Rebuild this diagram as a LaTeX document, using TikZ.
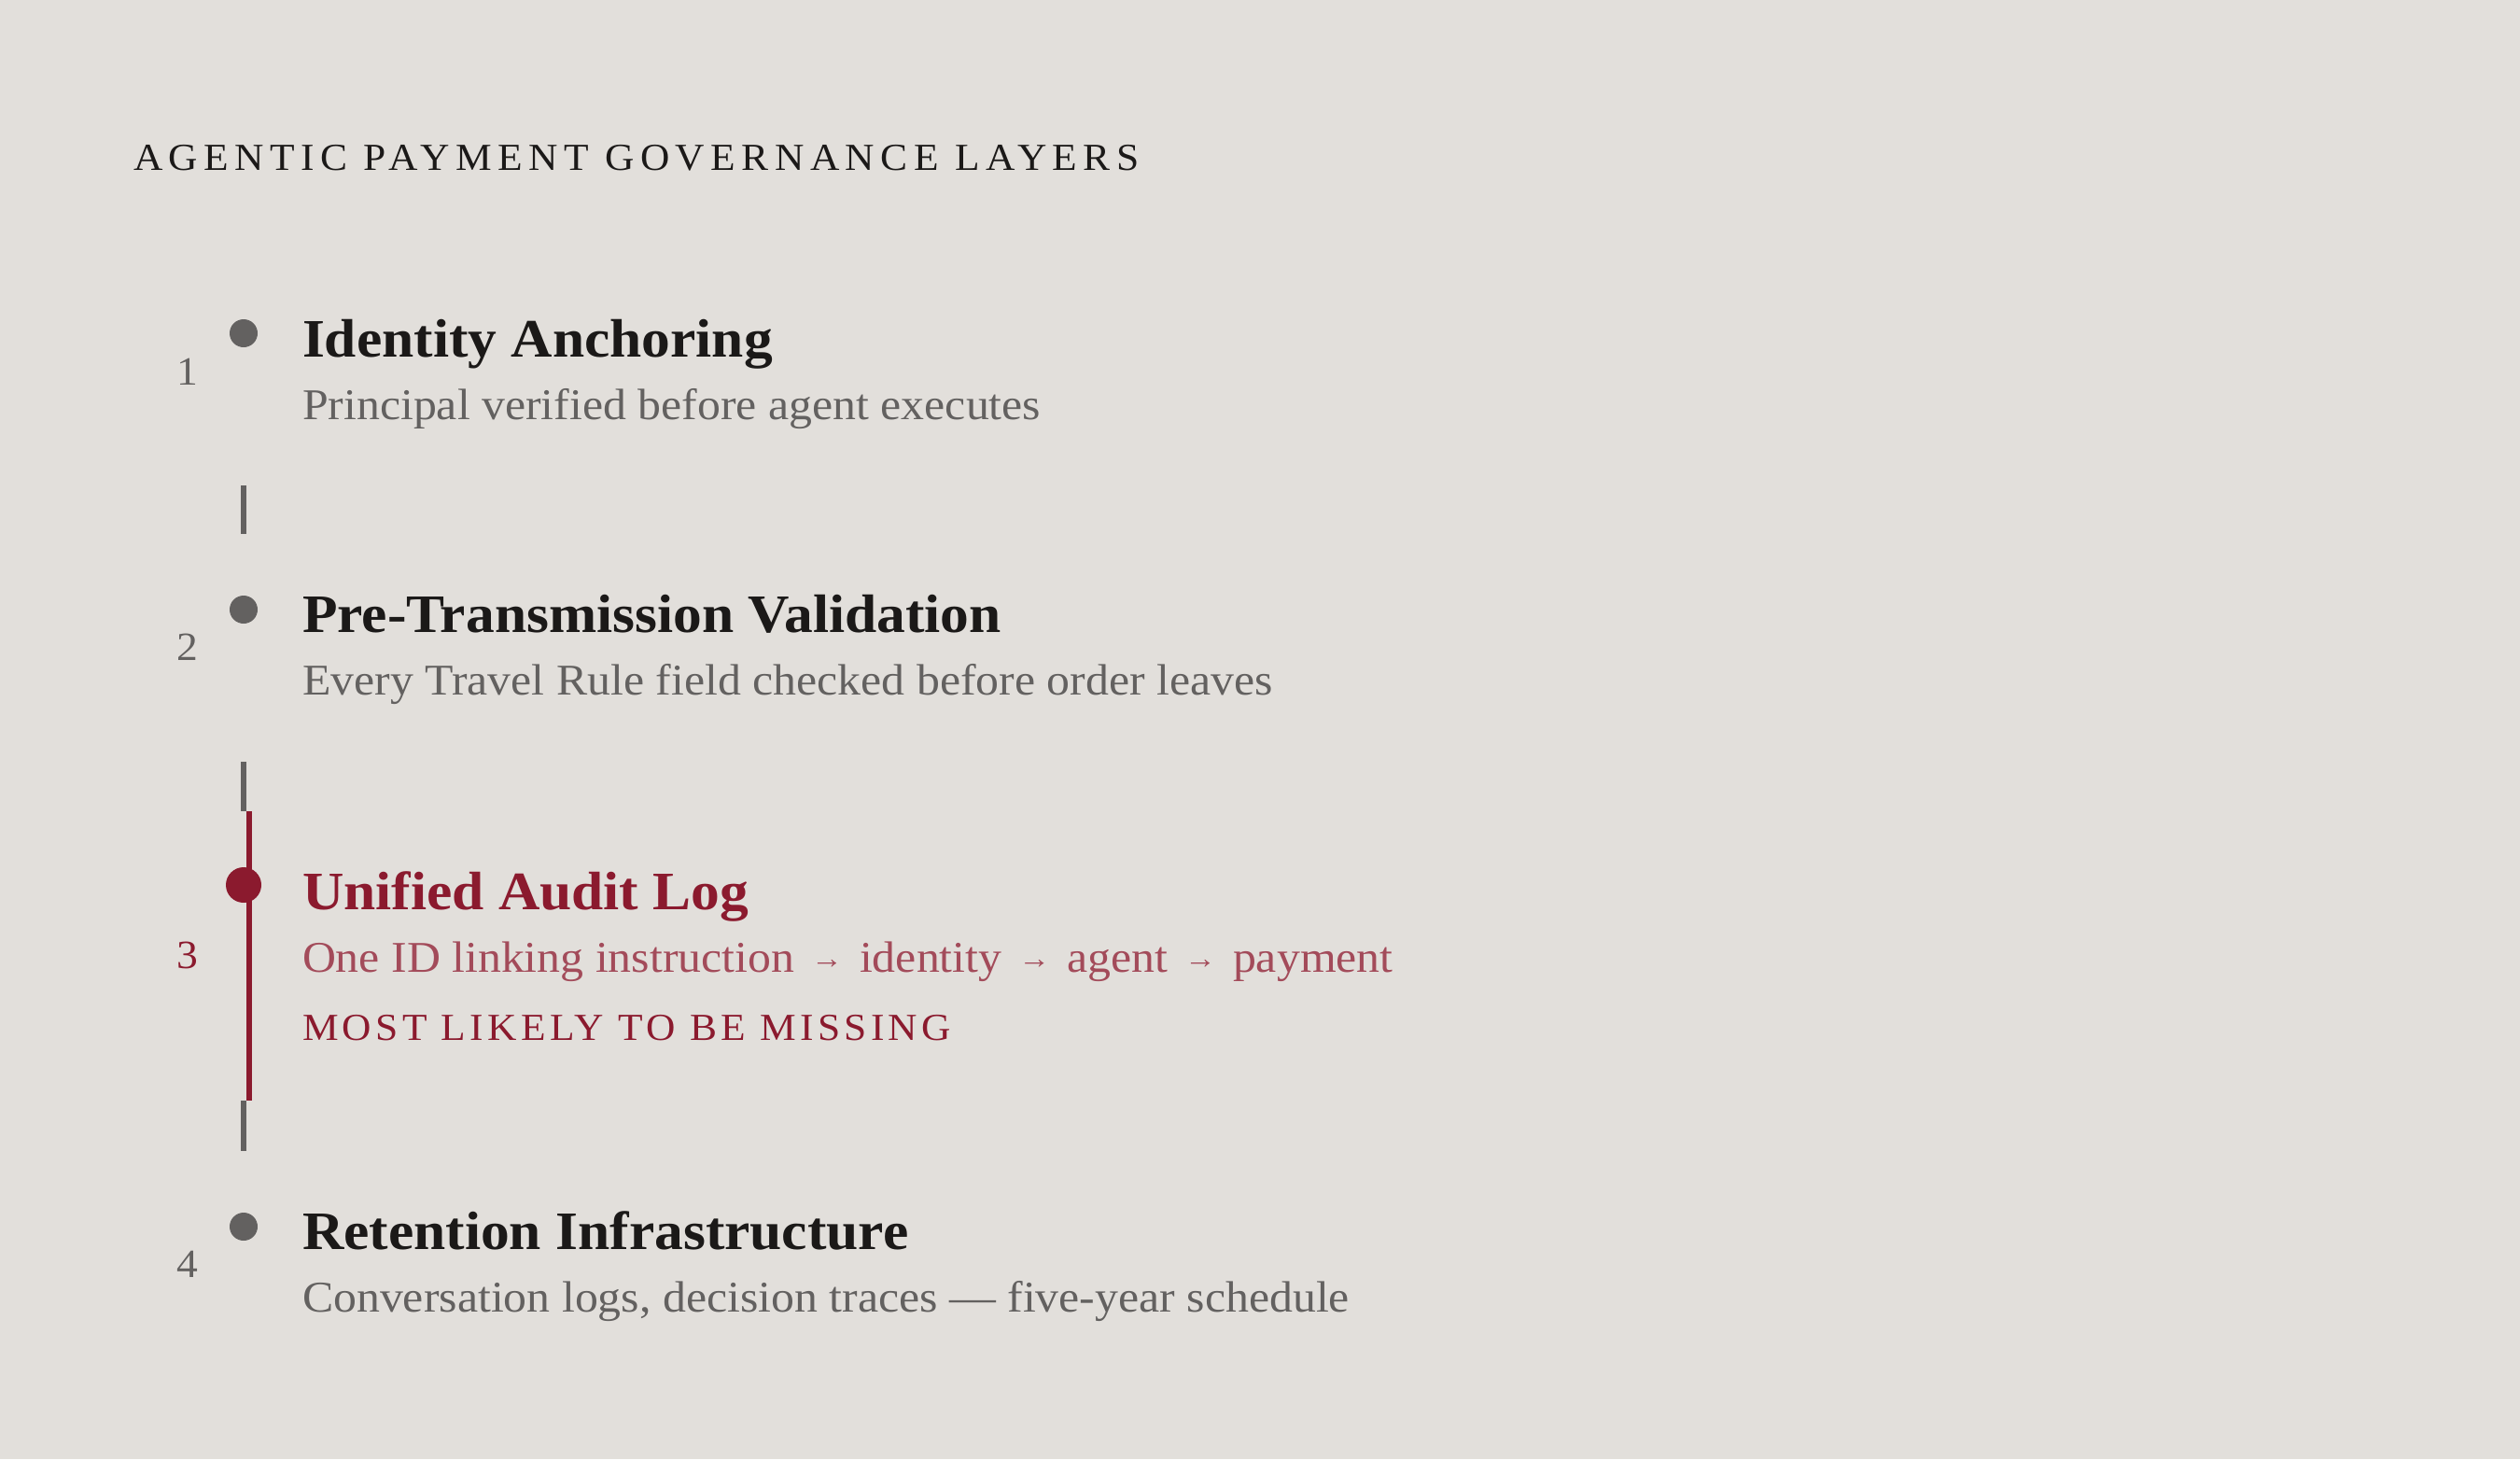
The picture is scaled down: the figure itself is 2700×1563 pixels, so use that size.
\documentclass[tikz,border=0pt]{standalone}
\usepackage{fontspec}
\setmainfont[FakeStretch=1.06]{Liberation Serif}
\newfontfamily\hdrfont[FakeStretch=1.06,LetterSpace=15.8]{Liberation Serif}
\newfontfamily\tagfont[FakeStretch=1.06,LetterSpace=10.6]{Liberation Serif}
\definecolor{bg}{HTML}{E2DFDB}
\definecolor{ink}{HTML}{1B1918}
\definecolor{grey}{HTML}{636160}
\definecolor{wine}{HTML}{8B1A2E}
\definecolor{winelight}{HTML}{A34B5A}
\newcommand{\smallarrow}{\hspace{18pt}\raisebox{4pt}{\fontsize{32}{32}\selectfont →}\hspace{18pt}}
\tikzset{
  ttl/.style={anchor=base west, font=\fontsize{58}{60}\selectfont\bfseries, text=ink},
  sub/.style={anchor=base west, font=\fontsize{47}{50}\selectfont, text=grey},
  num/.style={anchor=base, font=\fontsize{43}{45}\selectfont, text=grey},
  dotg/.style={circle, fill=grey, minimum size=30pt},
  dotr/.style={circle, fill=wine, minimum size=38pt},
  barg/.style={line width=6pt, draw=grey},
  barr/.style={line width=6pt, draw=wine},
  hdr/.style={anchor=base west, font=\hdrfont\fontsize{41}{43}\selectfont, text=ink},
  tagl/.style={anchor=base west, font=\tagfont\fontsize{41}{43}\selectfont, text=wine}
}
\begin{document}
\begin{tikzpicture}[x=1pt,y=-1pt, every node/.style={inner sep=0pt, outer sep=0pt}]
\fill[bg] (0,0) rectangle (2700,1563);
\useasboundingbox (0,0) rectangle (2700,1563);

\node[hdr] (hdr) at (143,182) {AGENTIC PAYMENT GOVERNANCE LAYERS};

% layer 1
\node[dotg] (d1) at (261,357) {};
\node[num] (n1) at (201,412) {1};
\node[ttl] (t1) at (324,382) {Identity Anchoring};
\node[sub] (s1) at (324,449) {Principal verified before agent executes};

\coordinate (b1t) at (261,520);
\coordinate (b1b) at (261,572);
\draw[barg] (b1t) -- (b1b);

% layer 2
\node[dotg] (d2) at (261,653) {};
\node[num] (n2) at (201,707) {2};
\node[ttl] (t2) at (324,677) {Pre-Transmission Validation};
\node[sub] (s2) at (324,744) {Every Travel Rule field checked before order leaves};

\coordinate (b2t) at (261,816);
\coordinate (b2b) at (261,869);
\draw[barg] (b2t) -- (b2b);

% layer 3
\coordinate (r3t) at (267,869);
\coordinate (r3b) at (267,1179);
\draw[barr] (r3t) -- (r3b);
\node[dotr] (d3) at (261,948) {};
\node[num, text=wine] (n3) at (201,1037) {3};
\node[ttl, text=wine] (t3) at (324,974) {Unified Audit Log};
\node[sub, text=winelight] (s3) at (324,1041) {One ID linking instruction\smallarrow identity\smallarrow agent\smallarrow payment};
\node[tagl] (m3) at (324,1114) {MOST LIKELY TO BE MISSING};

\coordinate (b3t) at (261,1179);
\coordinate (b3b) at (261,1233);
\draw[barg] (b3t) -- (b3b);

% layer 4
\node[dotg] (d4) at (261,1314) {};
\node[num] (n4) at (201,1368) {4};
\node[ttl] (t4) at (324,1338) {Retention Infrastructure};
\node[sub] (s4) at (324,1405) {Conversation logs, decision traces — five-year schedule};
\end{tikzpicture}
\end{document}
